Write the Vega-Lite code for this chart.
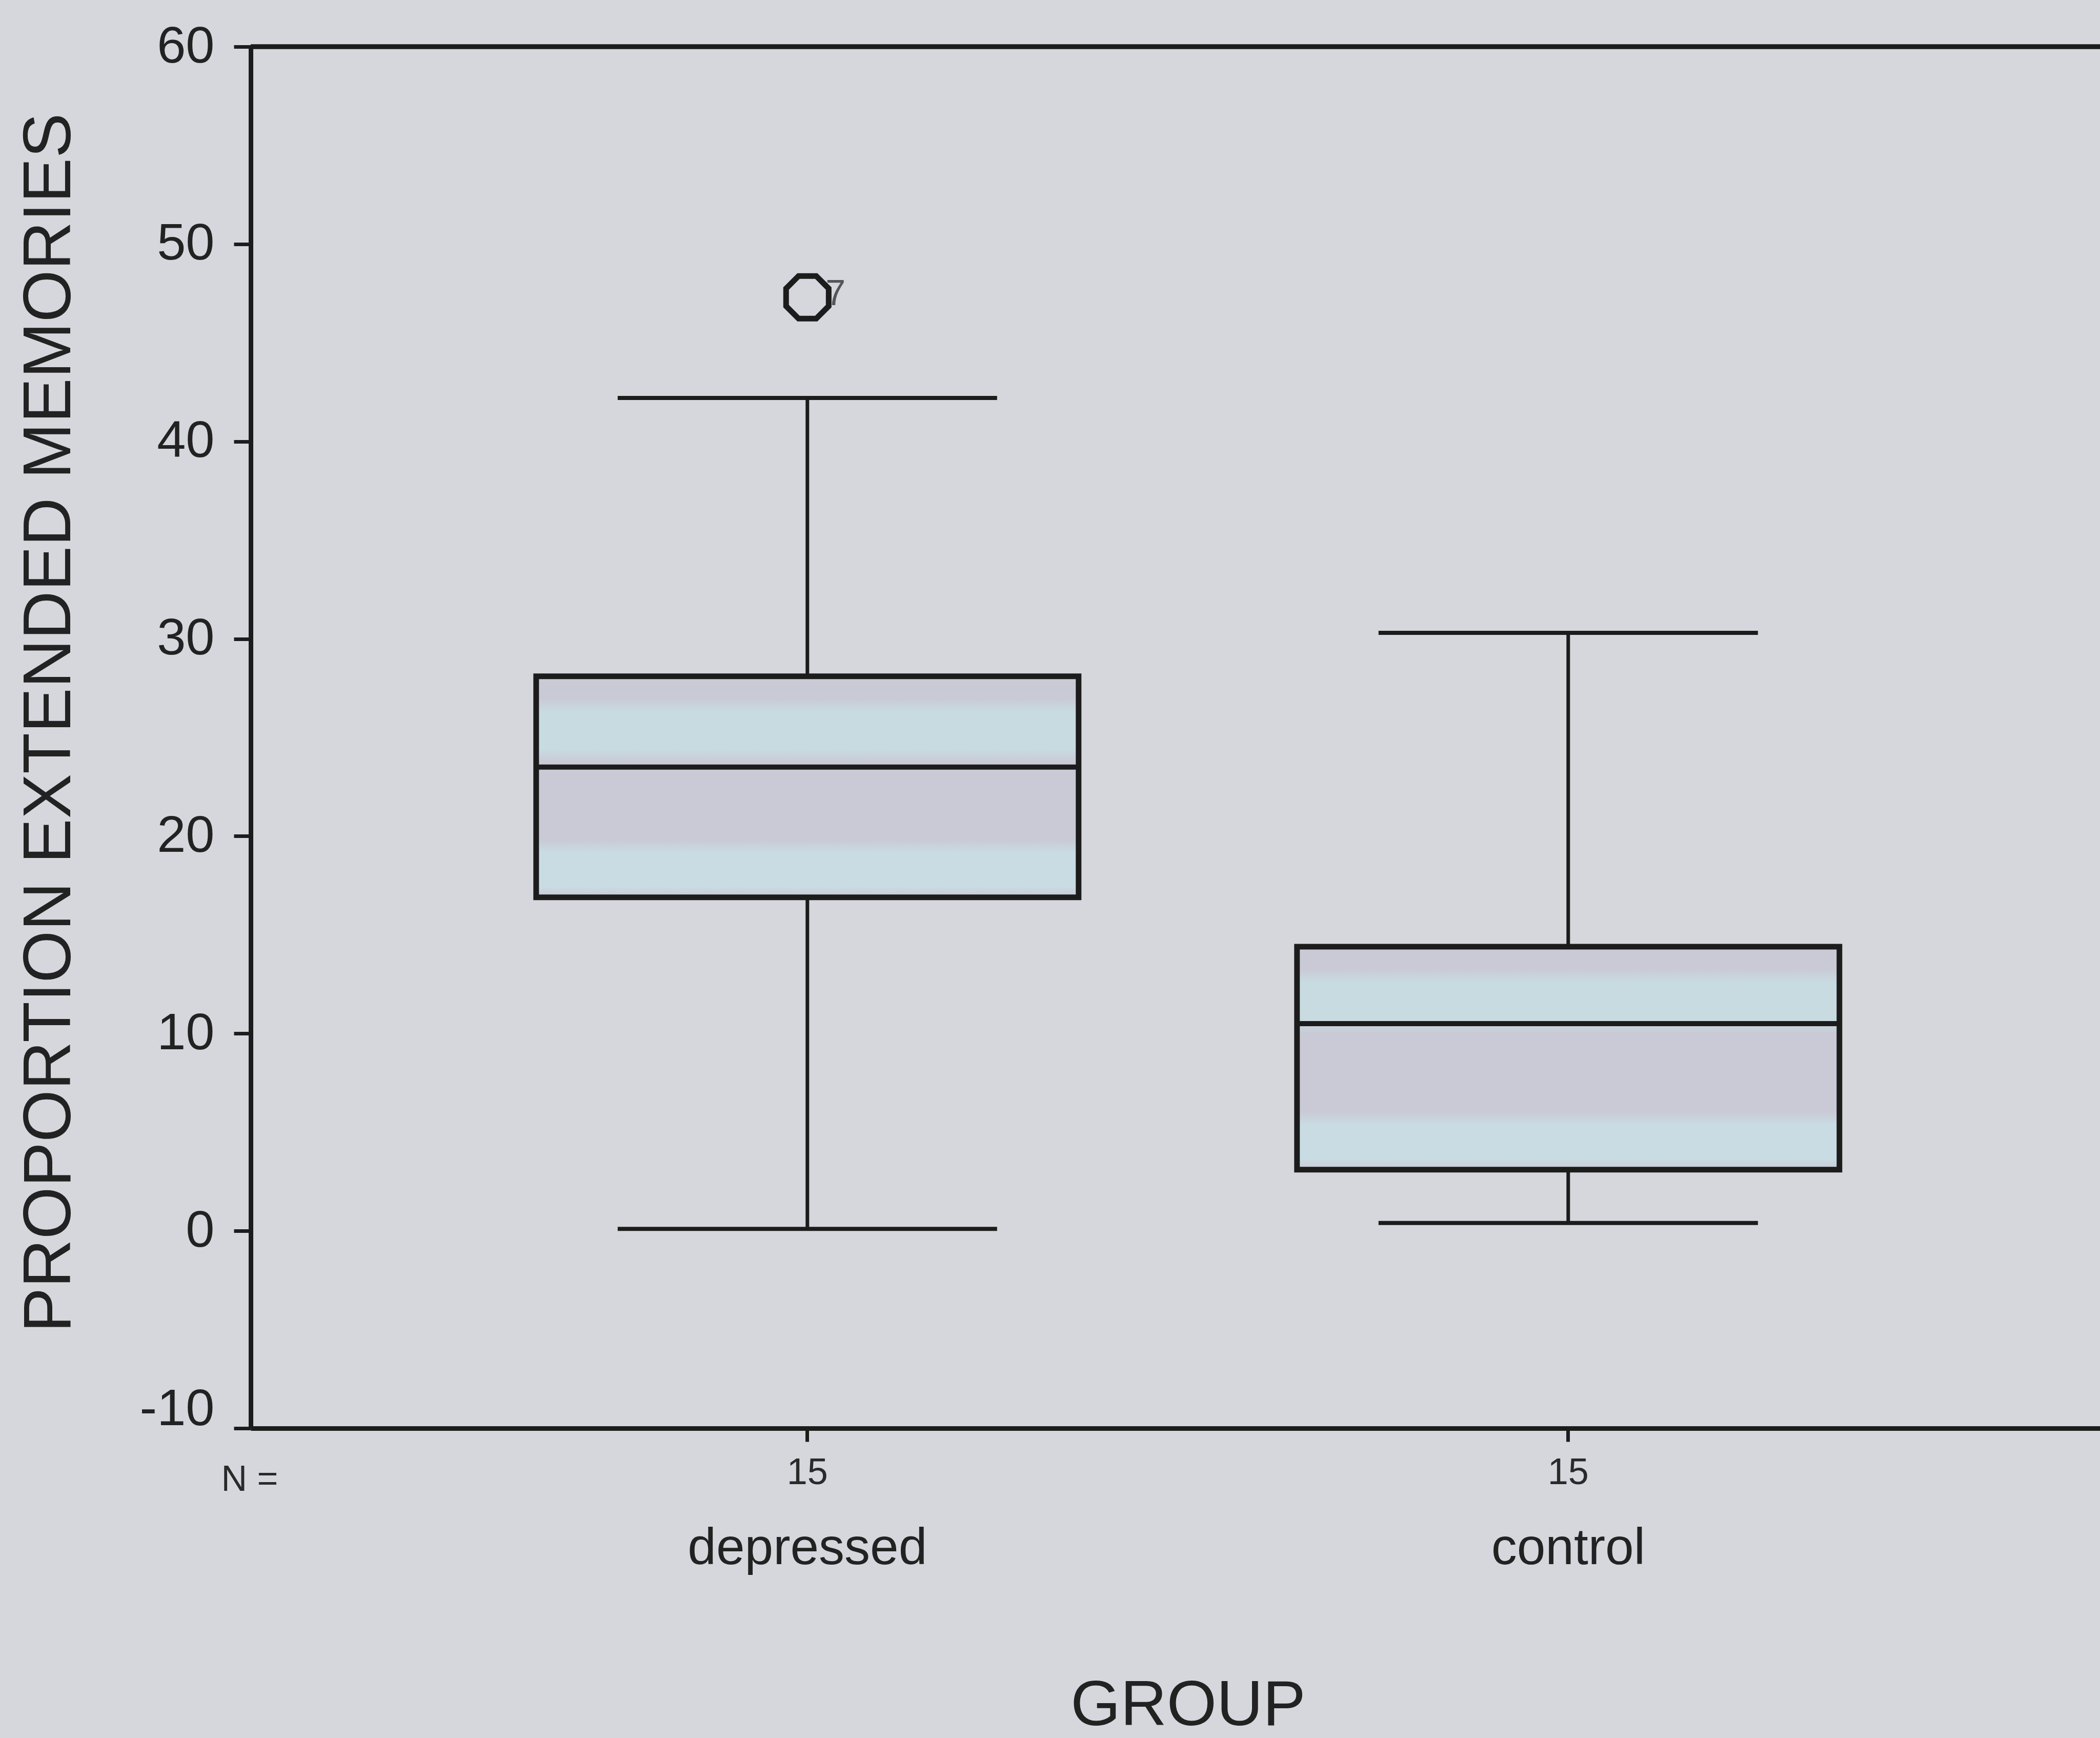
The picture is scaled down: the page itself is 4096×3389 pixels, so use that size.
{
  "$schema": "https://vega.github.io/schema/vega-lite/v6.json",
  "autosize": {"type": "none"},
  "padding": {"left": 489, "top": 91, "right": 0, "bottom": 604},
  "width": 3607,
  "height": 2694,
  "background": "#d6d7dd",
  "config": {"view": {"stroke": null}, "font": "Liberation Sans"},
  "datasets": {
    "stats": [
      {"group": "depressed", "n": 15, "lower": 0.1, "q1": 16.9, "median": 23.5, "q3": 28.1, "upper": 42.2},
      {"group": "control", "n": 15, "lower": 0.4, "q1": 3.1, "median": 10.5, "q3": 14.4, "upper": 30.3}
    ],
    "outliers": [
      {"group": "depressed", "value": 47.3, "case": "7"}
    ]
  },
  "resolve": {"axis": {"x": "independent"}},
  "layer": [
    {
      "data": {"name": "stats"},
      "mark": {"type": "rule", "color": "#1c1c1c", "strokeWidth": 7},
      "encoding": {
        "x": {
          "field": "group", "type": "nominal",
          "scale": {"domain": ["depressed", "control"], "paddingInner": 0, "paddingOuter": 0.2153, "align": 0.538},
          "axis": {
            "orient": "bottom",
            "domain": true, "domainColor": "#1c1c1c", "domainWidth": 9,
            "ticks": true, "tickColor": "#1c1c1c", "tickWidth": 7, "tickSize": 26,
            "labelExpr": "'15'", "labelFontSize": 72, "labelColor": "#2a2a2a", "labelPadding": 25, "labelAngle": 0,
            "title": "N =", "titleFontSize": 70, "titleFontWeight": "normal", "titleColor": "#2a2a2a",
            "titleX": -58, "titleY": 100, "titleAlign": "left", "titleBaseline": "middle", "titleAngle": 0
          }
        },
        "y": {
          "field": "lower", "type": "quantitative",
          "scale": {"domain": [-10, 60], "nice": false},
          "title": "PROPORTION EXTENDED MEMORIES",
          "axis": {
            "values": [-10, 0, 10, 20, 30, 40, 50, 60],
            "labelExpr": "'' + datum.value",
            "grid": false,
            "domain": true, "domainColor": "#1c1c1c", "domainWidth": 9,
            "ticks": true, "tickColor": "#1c1c1c", "tickWidth": 7, "tickSize": 33,
            "labelFontSize": 101, "labelColor": "#222222", "labelPadding": 38,
            "labelOffset": {"condition": {"test": "datum.value === -10", "value": -37}, "value": 0},
            "titleFontSize": 131, "titleFontWeight": "normal", "titleColor": "#222222",
            "titleX": -392, "titleY": 1318, "titleAlign": "center", "titleBaseline": "middle", "titleAngle": -90
          }
        },
        "y2": {"field": "upper"}
      }
    },
    {
      "data": {"name": "stats"},
      "mark": {"type": "rule", "color": "#1c1c1c", "strokeWidth": 9},
      "encoding": {
        "y": {"datum": 60, "type": "quantitative", "title": "PROPORTION EXTENDED MEMORIES"}
      }
    },
    {
      "data": {"name": "stats"},
      "mark": {
        "type": "bar", "size": 1058, "stroke": "#1c1c1c", "strokeWidth": 11,
        "fill": {
          "gradient": "linear", "x1": 0, "y1": 0, "x2": 0, "y2": 1,
          "stops": [
            {"offset": 0, "color": "#c9cad5"},
            {"offset": 0.1, "color": "#c9cad5"},
            {"offset": 0.16, "color": "#c8dbe1"},
            {"offset": 0.33, "color": "#c8dbe1"},
            {"offset": 0.39, "color": "#c9cad5"},
            {"offset": 0.74, "color": "#c9cad5"},
            {"offset": 0.8, "color": "#c9dce3"},
            {"offset": 0.95, "color": "#c9dce3"},
            {"offset": 1, "color": "#c9cad5"}
          ]
        }
      },
      "encoding": {
        "x": {
          "field": "group", "type": "nominal",
          "axis": {
            "orient": "bottom",
            "domain": false, "ticks": false, "tickSize": 0,
            "labelFontSize": 100, "labelColor": "#222222", "labelPadding": 264, "labelBaseline": "alphabetic", "labelAngle": 0, "labelLimit": 0,
            "title": "GROUP", "titleFontSize": 125, "titleFontWeight": "normal", "titleColor": "#222222",
            "titleX": 1828, "titleY": 578, "titleAlign": "center", "titleBaseline": "alphabetic"
          }
        },
        "y": {"field": "q1", "type": "quantitative", "title": "PROPORTION EXTENDED MEMORIES"},
        "y2": {"field": "q3"}
      }
    },
    {
      "data": {"name": "stats"},
      "mark": {"type": "tick", "size": 1058, "thickness": 10, "color": "#1c1c1c", "opacity": 1},
      "encoding": {
        "x": {"field": "group", "type": "nominal", "axis": null},
        "y": {"field": "median", "type": "quantitative", "title": "PROPORTION EXTENDED MEMORIES"}
      }
    },
    {
      "data": {"name": "stats"},
      "mark": {"type": "tick", "size": 740, "thickness": 8, "color": "#1c1c1c", "opacity": 1},
      "encoding": {
        "x": {"field": "group", "type": "nominal", "axis": null},
        "y": {"field": "lower", "type": "quantitative", "title": "PROPORTION EXTENDED MEMORIES"}
      }
    },
    {
      "data": {"name": "stats"},
      "mark": {"type": "tick", "size": 740, "thickness": 8, "color": "#1c1c1c", "opacity": 1},
      "encoding": {
        "x": {"field": "group", "type": "nominal", "axis": null},
        "y": {"field": "upper", "type": "quantitative", "title": "PROPORTION EXTENDED MEMORIES"}
      }
    },
    {
      "data": {"name": "outliers"},
      "mark": {
        "type": "point", "filled": false, "stroke": "#1c1c1c", "strokeWidth": 11, "opacity": 1,
        "shape": "M -0.414 -1 L 0.414 -1 L 1 -0.414 L 1 0.414 L 0.414 1 L -0.414 1 L -1 0.414 L -1 -0.414 Z",
        "size": 6900
      },
      "encoding": {
        "x": {"field": "group", "type": "nominal", "axis": null},
        "y": {"field": "value", "type": "quantitative", "title": "PROPORTION EXTENDED MEMORIES"}
      }
    },
    {
      "data": {"name": "outliers"},
      "mark": {"type": "text", "fontSize": 70, "color": "#555555", "dx": 55, "dy": -6, "align": "center", "baseline": "middle"},
      "encoding": {
        "x": {"field": "group", "type": "nominal", "axis": null},
        "y": {"field": "value", "type": "quantitative", "title": "PROPORTION EXTENDED MEMORIES"},
        "text": {"field": "case"}
      }
    }
  ]
}
